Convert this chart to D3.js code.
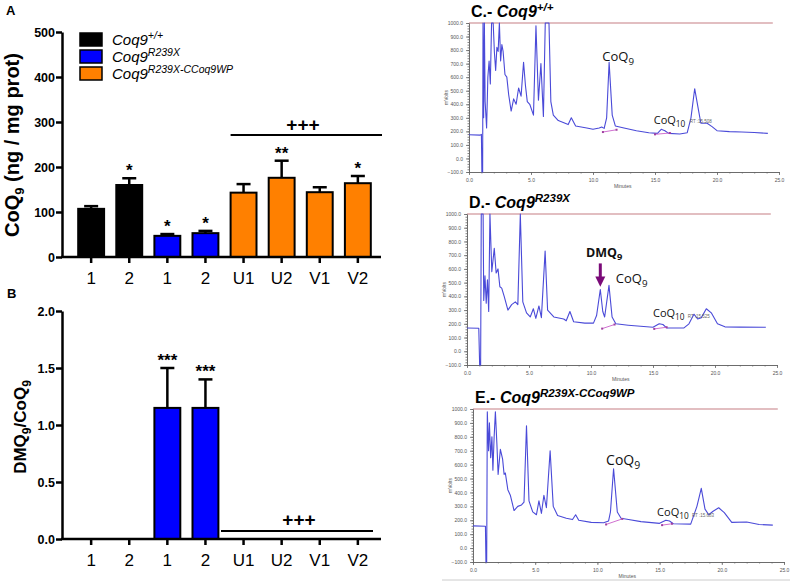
<!DOCTYPE html>
<html><head><meta charset="utf-8">
<script src="https://cdn.jsdelivr.net/npm/d3@7"></script>
<style>body{margin:0;background:#fff}svg{display:block}</style>
</head><body>
<svg id="c" width="790" height="582"></svg>
<script>
// ---------- DATA ----------
const categories = ["1","2","1","2","U1","U2","V1","V2"];
const groupOf = [0,0,1,1,2,2,2,2];
const groupColors = ["#000000","#0000ff","#ff8000"];
const legendSup = ["+/+","R239X","R239X-CCoq9WP"];
const coq9Mean = [107,160,47,53,143,176,144,164];
const coq9Upper = [113,175,51,58,162,214,155,180];
const coq9Sig = ["","*","*","*","","**","","*"];
const coq9Ticks = [0,100,200,300,400,500];
const dmqMean = [0,0,1.15,1.15,0,0,0,0];
const dmqUpper = [0,0,1.5,1.4,0,0,0,0];
const dmqSig = ["","","***","***","","","",""];
const dmqTicks = [0,0.5,1.0,1.5,2.0];

const chromYTicks = [-100,0,100,200,300,400,500,600,700,800,900,1000];
const chromXTicks = [0,5,10,15,20,25];

const chromC = [[0,175],[0.9,172],[1.0,178],[1.04,-100],[1.1,-100],[1.13,1000],[1.18,300],[1.24,1000],[1.3,420],[1.42,225],[1.52,600],[1.62,720],[1.72,550],[1.82,1000],[1.95,1000],[2.05,780],[2.15,650],[2.25,820],[2.35,790],[2.45,1000],[2.55,720],[2.65,840],[2.75,790],[2.9,620],[3.05,600],[3.2,470],[3.4,350],[3.6,440],[3.8,400],[4.0,520],[4.2,460],[4.4,710],[4.55,540],[4.7,420],[4.9,400],[5.2,320],[5.4,980],[5.6,430],[5.8,700],[6.0,310],[6.15,1000],[6.45,1000],[6.6,420],[6.8,320],[7.2,280],[8.0,250],[8.25,300],[8.6,240],[9.5,225],[10.0,215],[10.5,225],[10.7,232],[10.9,222],[11.1,300],[11.3,710],[11.55,320],[11.8,240],[12.5,225],[13.5,205],[14.5,190],[15.2,185],[15.5,215],[15.8,205],[16.1,185],[17.0,180],[17.6,190],[17.9,300],[18.2,515],[18.5,360],[18.7,260],[19.2,260],[19.6,235],[20.0,205],[21,198],[22,195],[23,192],[24.1,185]];

const chromD = [[0,170],[0.95,168],[1.02,-100],[1.1,-100],[1.15,1000],[1.3,1000],[1.35,370],[1.45,550],[1.55,350],[1.65,520],[1.75,290],[1.85,1000],[2.0,580],[2.2,750],[2.35,570],[2.5,600],[2.65,470],[2.8,460],[3.0,400],[3.3,300],[3.6,340],[3.9,360],[4.1,340],[4.3,1000],[4.5,360],[4.8,280],[5.1,250],[5.35,310],[5.55,240],[5.8,330],[6.0,245],[6.3,730],[6.5,300],[7.0,250],[7.8,235],[8.0,222],[8.3,290],[8.6,215],[9.5,205],[10.2,205],[10.45,260],[10.75,450],[10.95,290],[11.1,250],[11.45,480],[11.7,250],[12,200],[13,190],[14,182],[15,175],[15.5,200],[15.8,195],[16.1,170],[17.5,170],[17.9,200],[18.3,270],[18.6,235],[18.9,245],[19.3,310],[19.7,280],[20.2,200],[20.8,178],[22,176],[24.1,175]];

const chromE = [[0,160],[1.0,157],[1.04,-100],[1.1,-100],[1.15,980],[1.25,700],[1.32,900],[1.42,650],[1.52,800],[1.6,560],[1.7,800],[1.8,980],[1.92,750],[2.02,530],[2.2,710],[2.38,640],[2.5,530],[2.6,540],[2.8,420],[3.0,380],[3.3,270],[3.6,300],[3.9,310],[4.1,330],[4.3,880],[4.5,340],[4.8,260],[5.1,240],[5.3,340],[5.5,250],[5.7,380],[5.9,290],[6.2,700],[6.45,300],[6.8,235],[7.5,215],[8.0,205],[8.25,240],[8.5,200],[9.5,185],[10.5,182],[10.9,195],[11.05,260],[11.3,570],[11.6,260],[11.9,215],[12.5,205],[13.5,190],[15,178],[15.5,200],[15.8,195],[16.1,175],[17.5,172],[18.0,300],[18.35,430],[18.65,280],[18.95,240],[19.3,265],[19.75,290],[20.2,255],[20.8,185],[22,188],[23,170],[24.1,165]];

// integration baselines (pink)
const baseC = [[[10.8,195],[11.9,212]],[[15.0,178],[16.2,188]]];
const baseD = [[[10.9,165],[11.9,195]],[[15.1,163],[16.1,175]]];
const baseE = [[[10.7,170],[12.0,210]],[[15.2,165],[16.0,175]]];

// ---------- DRAW ----------
const svg = d3.select("#c");
const font = "Liberation Sans, Arial, sans-serif";

const x = d3.scaleBand().domain(d3.range(categories.length)).range([66,383]).padding(0.32);

function barPanel(opts){
  const {y, ticks, mean, upper, sig, fmt} = opts;
  const g = svg.append("g");
  g.selectAll("rect.bar").data(mean).join("rect")
    .attr("x",(d,i)=>x(i)).attr("width",x.bandwidth())
    .attr("y",d=>y(d)).attr("height",d=>y(0)-y(d))
    .attr("fill",(d,i)=>groupColors[groupOf[i]])
    .attr("stroke","#000").attr("stroke-width",d=>d>0?2:0);
  mean.forEach((m,i)=>{
    const cx = x(i)+x.bandwidth()/2;
    if(upper[i]>m){
      g.append("line").attr("x1",cx).attr("x2",cx).attr("y1",y(m)).attr("y2",y(upper[i])).attr("stroke","#000").attr("stroke-width",2.5);
      g.append("line").attr("x1",cx-7).attr("x2",cx+7).attr("y1",y(upper[i])).attr("y2",y(upper[i])).attr("stroke","#000").attr("stroke-width",2.5);
    }
    if(sig[i]) g.append("text").attr("x",cx).attr("y",y(upper[i])-2).attr("text-anchor","middle")
      .attr("font-family",font).attr("font-weight","bold").attr("font-size",17).text(sig[i]);
  });
  const ya = g.append("g").attr("transform","translate(62,0)")
    .call(d3.axisLeft(y).tickValues(ticks).tickFormat(fmt).tickSize(6).tickSizeOuter(0));
  ya.select(".domain").attr("stroke-width",2.5);
  ya.selectAll(".tick line").attr("stroke-width",2.5);
  ya.selectAll("text").attr("font-family",font).attr("font-weight","bold").attr("font-size",12.5).attr("x",-7).attr("fill","#000");
  const xa = g.append("g").attr("transform",`translate(0,${y(0)})`)
    .call(d3.axisBottom(x).tickFormat(i=>categories[i]).tickSize(6).tickSizeOuter(0));
  xa.select(".domain").attr("d",`M61,0H381`).attr("stroke-width",2.5);
  xa.selectAll(".tick line").attr("stroke-width",2.5);
  xa.selectAll("text").attr("font-family",font).attr("font-size",17).attr("dy","1.05em").attr("fill","#000");
  return g;
}

// Panel A
const yA = d3.scaleLinear().domain([0,500]).range([257,32]);
barPanel({y:yA,ticks:coq9Ticks,mean:coq9Mean,upper:coq9Upper,sig:coq9Sig,fmt:d3.format("d")});
svg.append("line").attr("x1",x(4)).attr("x2",382).attr("y1",135).attr("y2",135).attr("stroke","#000").attr("stroke-width",1.8);
svg.append("text").attr("x",303).attr("y",131).attr("text-anchor","middle").attr("font-family",font).attr("font-weight","bold").attr("font-size",19).text("+++");

// Panel B
const yB = d3.scaleLinear().domain([0,2]).range([539,311]);
barPanel({y:yB,ticks:dmqTicks,mean:dmqMean,upper:dmqUpper,sig:dmqSig,fmt:d3.format(".1f")});
svg.append("line").attr("x1",221).attr("x2",373).attr("y1",531).attr("y2",531).attr("stroke","#000").attr("stroke-width",1.8);
svg.append("text").attr("x",299).attr("y",526).attr("text-anchor","middle").attr("font-family",font).attr("font-weight","bold").attr("font-size",19).text("+++");

// Panel letters
svg.append("text").attr("x",6).attr("y",15).attr("font-family",font).attr("font-weight","bold").attr("font-size",13).text("A");
svg.append("text").attr("x",7).attr("y",298).attr("font-family",font).attr("font-weight","bold").attr("font-size",13).text("B");

// Y titles
const tA = svg.append("text").attr("transform","translate(19,145) rotate(-90)").attr("text-anchor","middle")
  .attr("font-family",font).attr("font-weight","bold").attr("font-size",20);
tA.append("tspan").text("CoQ");
tA.append("tspan").attr("dy",5).attr("font-size",13).text("9");
tA.append("tspan").attr("dy",-5).text(" (ng / mg prot)");
const tB = svg.append("text").attr("transform","translate(26,427) rotate(-90)").attr("text-anchor","middle")
  .attr("font-family",font).attr("font-weight","bold").attr("font-size",17);
tB.append("tspan").text("DMQ");
tB.append("tspan").attr("dy",5).attr("font-size",12).text("9");
tB.append("tspan").attr("dy",-5).text("/CoQ");
tB.append("tspan").attr("dy",5).attr("font-size",12).text("9");

// Legend
const leg = svg.append("g");
legendSup.forEach((s,i)=>{
  const yy = 33 + i*17;
  leg.append("rect").attr("x",80).attr("y",yy).attr("width",22).attr("height",13)
    .attr("fill",groupColors[i]).attr("stroke","#000").attr("stroke-width",1.5);
  const t = leg.append("text").attr("x",112).attr("y",yy+12).attr("font-family",font).attr("font-style","italic").attr("font-size",15);
  t.append("tspan").text("Coq9");
  t.append("tspan").attr("dy",-6).attr("font-size",10.5).text(s);
});

// ---------- Chromatograms ----------
function chrom(data, base, box, titleSup, labels){
  const g = svg.append("g");
  const cx = d3.scaleLinear().domain([0,25]).range([box.x0,box.x1]);
  const cy = d3.scaleLinear().domain([-100,1000]).range([box.y0,box.y1]);
  const t = g.append("text").attr("x",box.x0+2).attr("y",box.y1-6).attr("font-family",font).attr("font-weight","bold").attr("font-size",16);
  t.append("tspan").text(box.letter+".- ");
  t.append("tspan").attr("font-style","italic").text("Coq9");
  t.append("tspan").attr("font-style","italic").attr("dy",-6).attr("font-size",11.5).text(titleSup);
  g.append("line").attr("x1",cx(0)).attr("x2",cx(24.5)).attr("y1",cy(1000)).attr("y2",cy(1000)).attr("stroke","#d8a8ac").attr("stroke-width",1.5);
  const ya = g.append("g").attr("transform",`translate(${cx(0)},0)`)
    .call(d3.axisLeft(cy).tickValues(chromYTicks).tickFormat(d3.format(".1f")).tickSize(3).tickSizeOuter(0));
  const ym = g.append("g").attr("transform",`translate(${cx(0)},0)`)
    .call(d3.axisLeft(cy).tickValues(d3.range(-100,1001,20)).tickFormat("").tickSize(1.5).tickSizeOuter(0));
  const xa = g.append("g").attr("transform",`translate(0,${cy(-100)})`)
    .call(d3.axisBottom(cx).tickValues(chromXTicks).tickFormat(d3.format(".1f")).tickSize(3).tickSizeOuter(0));
  const xm = g.append("g").attr("transform",`translate(0,${cy(-100)})`)
    .call(d3.axisBottom(cx).tickValues(d3.range(0,25.1,1)).tickFormat("").tickSize(1.5).tickSizeOuter(0));
  [ya,ym,xa,xm].forEach(a=>{a.selectAll("path,line").attr("stroke","#666").attr("stroke-width",0.8);
    a.selectAll("text").attr("font-family",font).attr("font-size",5).attr("fill","#555");});
  g.append("text").attr("x",cx(12.4)).attr("y",cy(-100)+16).attr("text-anchor","middle").attr("font-family",font).attr("font-size",5).attr("fill","#555").text("Minutes");
  g.append("text").attr("transform",`translate(${cx(0)-21},${cy(450)}) rotate(-90)`).attr("text-anchor","middle").attr("font-family",font).attr("font-size",5).attr("fill","#555").text("mVolts");
  g.append("path").datum(data).attr("fill","none").attr("stroke","#4a4ad8").attr("stroke-width",1.1).attr("stroke-linejoin","round")
    .attr("d",d3.line().x(d=>cx(d[0])).y(d=>cy(d[1])));
  base.forEach(b=>{
    g.append("line").attr("x1",cx(b[0][0])).attr("x2",cx(b[1][0])).attr("y1",cy(b[0][1])).attr("y2",cy(b[1][1])).attr("stroke","#d070d0").attr("stroke-width",1);
    b.forEach(p=>g.append("rect").attr("x",cx(p[0])-1).attr("y",cy(p[1])-1).attr("width",2).attr("height",2).attr("fill","#a040a0"));
  });
  labels.forEach(l=>{
    const tx = g.append("text").attr("x",cx(l.t)).attr("y",cy(l.v)).attr("font-family","Open Sans, Noto Sans, sans-serif")
      .attr("font-size",l.size).attr("font-weight",l.bold?"bold":"normal").attr("fill","#111");
    tx.append("tspan").text(l.main);
    if(l.sub) tx.append("tspan").attr("dy",l.size*0.3).attr("font-size",l.size*0.75).text(l.sub);
  });
  g.append("text").attr("x",cx(box.rtt)).attr("y",cy(box.rtv)).attr("font-family",font).attr("font-size",4.5).attr("fill","#666").text(box.rt);
  return {g,cx,cy};
}

chrom(chromC, baseC, {x0:469,x1:779,y0:172,y1:23,letter:"C",rt:"RT :15.508",rtt:17.8,rtv:260}, "+/+",
  [{t:10.75,v:720,main:"CoQ",sub:"9",size:13},{t:14.9,v:255,main:"CoQ",sub:"10",size:11}]);
const D = chrom(chromD, baseD, {x0:467,x1:777,y0:365,y1:214,letter:"D",rt:"RT :15.525",rtt:17.8,rtv:240}, "R239X",
  [{t:12.0,v:500,main:"CoQ",sub:"9",size:13},{t:15.0,v:250,main:"CoQ",sub:"10",size:11},{t:9.6,v:690,main:"DMQ",sub:"9",size:12.5,bold:true}]);
D.g.append("line").attr("x1",D.cx(10.75)).attr("x2",D.cx(10.75)).attr("y1",D.cy(640)).attr("y2",D.cy(540)).attr("stroke","#7a0a78").attr("stroke-width",3);
D.g.append("path").attr("d",`M${D.cx(10.75)-5},${D.cy(545)}L${D.cx(10.75)+5},${D.cy(545)}L${D.cx(10.75)},${D.cy(470)}Z`).attr("fill","#7a0a78");
chrom(chromE, baseE, {x0:473,x1:784,y0:562,y1:409,letter:"E",rt:"RT :15.683",rtt:17.6,rtv:225}, "R239X-CCoq9WP",
  [{t:10.7,v:600,main:"CoQ",sub:"9",size:14},{t:14.8,v:230,main:"CoQ",sub:"10",size:11}]);

svg.append("line").attr("x1",442).attr("x2",790).attr("y1",580).attr("y2",580).attr("stroke","#ccc").attr("stroke-width",1);
</script>
</body></html>
